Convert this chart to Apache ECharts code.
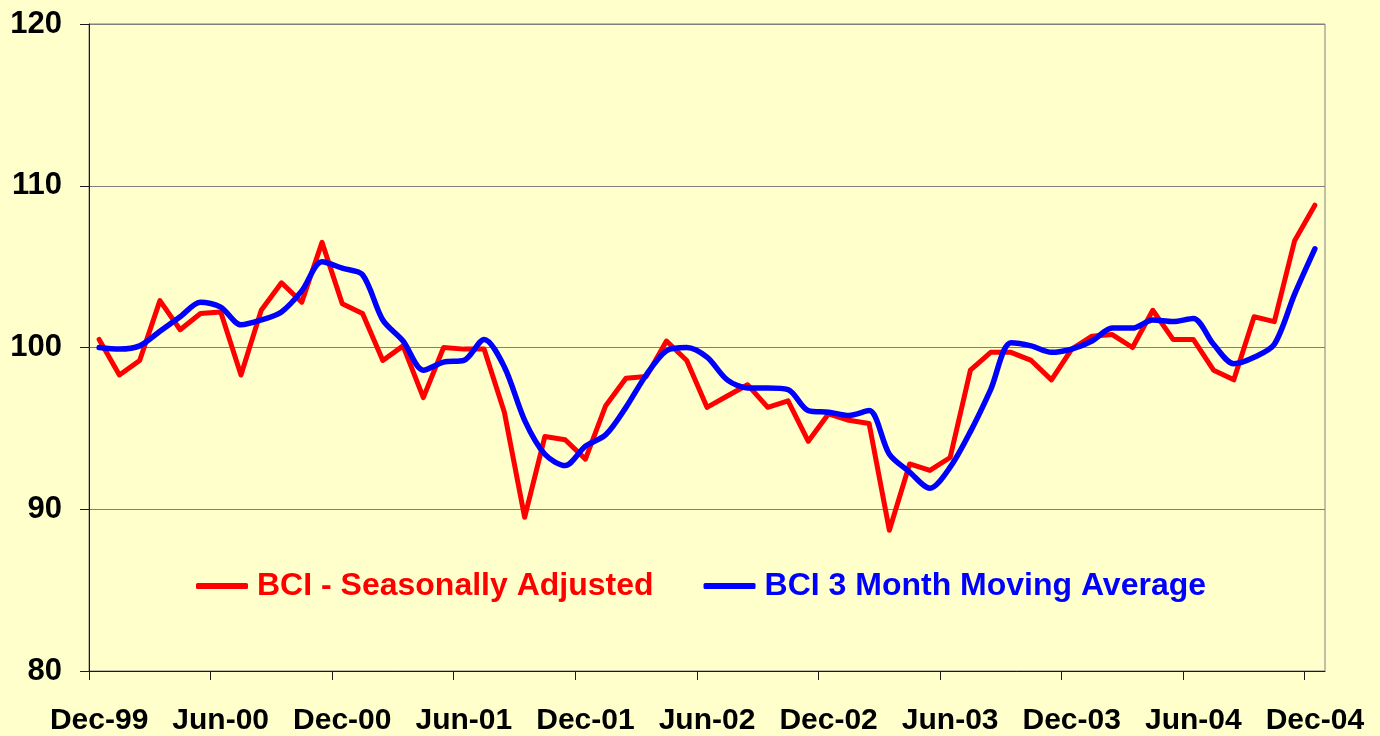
<!DOCTYPE html>
<html>
<head>
<meta charset="utf-8">
<script src="https://cdn.jsdelivr.net/npm/echarts@6/dist/echarts.min.js"></script>
<style>
html,body{margin:0;padding:0;background:#FFFFCC;}
#chart{width:1380px;height:736px;}
</style>
</head>
<body>
<div id="chart"></div>
<script>
const months = ['Dec-99',
 'Jan-00','Feb-00','Mar-00','Apr-00','May-00','Jun-00','Jul-00','Aug-00','Sep-00','Oct-00','Nov-00','Dec-00',
 'Jan-01','Feb-01','Mar-01','Apr-01','May-01','Jun-01','Jul-01','Aug-01','Sep-01','Oct-01','Nov-01','Dec-01',
 'Jan-02','Feb-02','Mar-02','Apr-02','May-02','Jun-02','Jul-02','Aug-02','Sep-02','Oct-02','Nov-02','Dec-02',
 'Jan-03','Feb-03','Mar-03','Apr-03','May-03','Jun-03','Jul-03','Aug-03','Sep-03','Oct-03','Nov-03','Dec-03',
 'Jan-04','Feb-04','Mar-04','Apr-04','May-04','Jun-04','Jul-04','Aug-04','Sep-04','Oct-04','Nov-04','Dec-04'];

const xTickLabels = ['Dec-99','Jun-00','Dec-00','Jun-01','Dec-01','Jun-02','Dec-02','Jun-03','Dec-03','Jun-04','Dec-04'];
const xTickPositions = [0,6,12,18,24,30,36,42,48,54,60];

const bciSeasonallyAdjusted = [
 100.5,
 98.3, 99.2, 102.9, 101.1, 102.1, 102.2, 98.3, 102.3, 104.0, 102.8, 106.5, 102.7,
 102.1, 99.2, 100.1, 96.9, 100.0, 99.9, 99.9, 96.0, 89.5, 94.5, 94.3, 93.1,
 96.4, 98.1, 98.2, 100.4, 99.2, 96.3, 97.0, 97.7, 96.3, 96.7, 94.2, 95.9,
 95.5, 95.3, 88.7, 92.8, 92.4, 93.2, 98.6, 99.7, 99.7, 99.2, 98.0, 99.9,
 100.7, 100.8, 100.0, 102.3, 100.5, 100.5, 98.6, 98.0, 101.9, 101.6, 106.6, 108.8
];

const bciMovingAverage = [
 100.0,
 99.9, 100.1, 101.0, 101.9, 102.8, 102.5, 101.4, 101.7, 102.2, 103.5, 105.3, 104.9,
 104.5, 101.7, 100.4, 98.6, 99.1, 99.2, 100.5, 98.8, 95.5, 93.4, 92.7, 93.9,
 94.6, 96.3, 98.3, 99.8, 100.0, 99.4, 98.0, 97.5, 97.5, 97.4, 96.1, 96.0,
 95.8, 96.1, 93.4, 92.3, 91.3, 92.6, 94.8, 97.4, 100.3, 100.1, 99.7, 99.9,
 100.4, 101.2, 101.2, 101.7, 101.6, 101.8, 100.2, 99.0, 99.4, 100.2, 103.3, 106.1
];

const yMin = 80, yMax = 120, yStep = 10;

const FONT = '"Liberation Sans", Arial, sans-serif';
const chart = echarts.init(document.getElementById('chart'), null, {renderer: 'canvas'});

// labels sit at the centre of their month, ticks at the month's left boundary
const labelPositions = xTickPositions.map(function (p) { return p + 0.5; });

chart.setOption({
  backgroundColor: '#FFFFCC',
  animation: false,
  grid: {
    left: 89, right: 55, top: 24, bottom: 62,
    show: true, borderColor: '#808080', borderWidth: 1, backgroundColor: 'transparent'
  },
  legend: {
    left: 196, top: 570, padding: 0,
    itemWidth: 52, itemHeight: 6, itemGap: 50,
    icon: 'roundRect',
    textStyle: {fontFamily: FONT, fontSize: 32, fontWeight: 'bold', padding: [0,0,0,4]},
    data: [
      {name: 'BCI - Seasonally Adjusted', textStyle: {color: '#FF0000'}},
      {name: 'BCI 3 Month Moving Average', textStyle: {color: '#0000FF'}}
    ]
  },
  xAxis: [
    {
      type: 'category', data: months, boundaryGap: true, show: false
    },
    {
      type: 'value', min: 0, max: months.length, interval: 6, position: 'bottom',
      splitLine: {show: false},
      axisLine: {show: true, lineStyle: {color: '#1a1a1a', width: 1}},
      axisTick: {show: true, length: 9, inside: false, lineStyle: {color: '#1a1a1a'}, customValues: xTickPositions},
      axisLabel: {
        show: true, margin: 35, color: '#000', fontFamily: FONT, fontSize: 30, fontWeight: 'bold',
        customValues: labelPositions,
        formatter: function (v) { const k = labelPositions.indexOf(v); return k >= 0 ? xTickLabels[k] : ''; }
      }
    }
  ],
  yAxis: {
    type: 'value', min: yMin, max: yMax, interval: yStep,
    axisLine: {show: true, lineStyle: {color: '#1a1a1a', width: 1}},
    axisTick: {show: true, length: 9, lineStyle: {color: '#1a1a1a'}},
    splitLine: {show: true, lineStyle: {color: '#7f7f7f', width: 1}},
    axisLabel: {margin: 27, color: '#000', fontFamily: FONT, fontSize: 31, fontWeight: 'bold'}
  },
  series: [
    {
      name: 'BCI - Seasonally Adjusted', type: 'line', xAxisIndex: 0,
      data: bciSeasonallyAdjusted, symbol: 'none', smooth: false,
      color: '#FF0000',
      lineStyle: {color: '#FF0000', width: 5, cap: 'round', join: 'round'}
    },
    {
      name: 'BCI 3 Month Moving Average', type: 'line', xAxisIndex: 0,
      data: bciMovingAverage, symbol: 'none', smooth: 0.3,
      color: '#0000FF',
      lineStyle: {color: '#0000FF', width: 5.5, cap: 'round', join: 'round'}
    }
  ]
});
</script>
</body>
</html>
